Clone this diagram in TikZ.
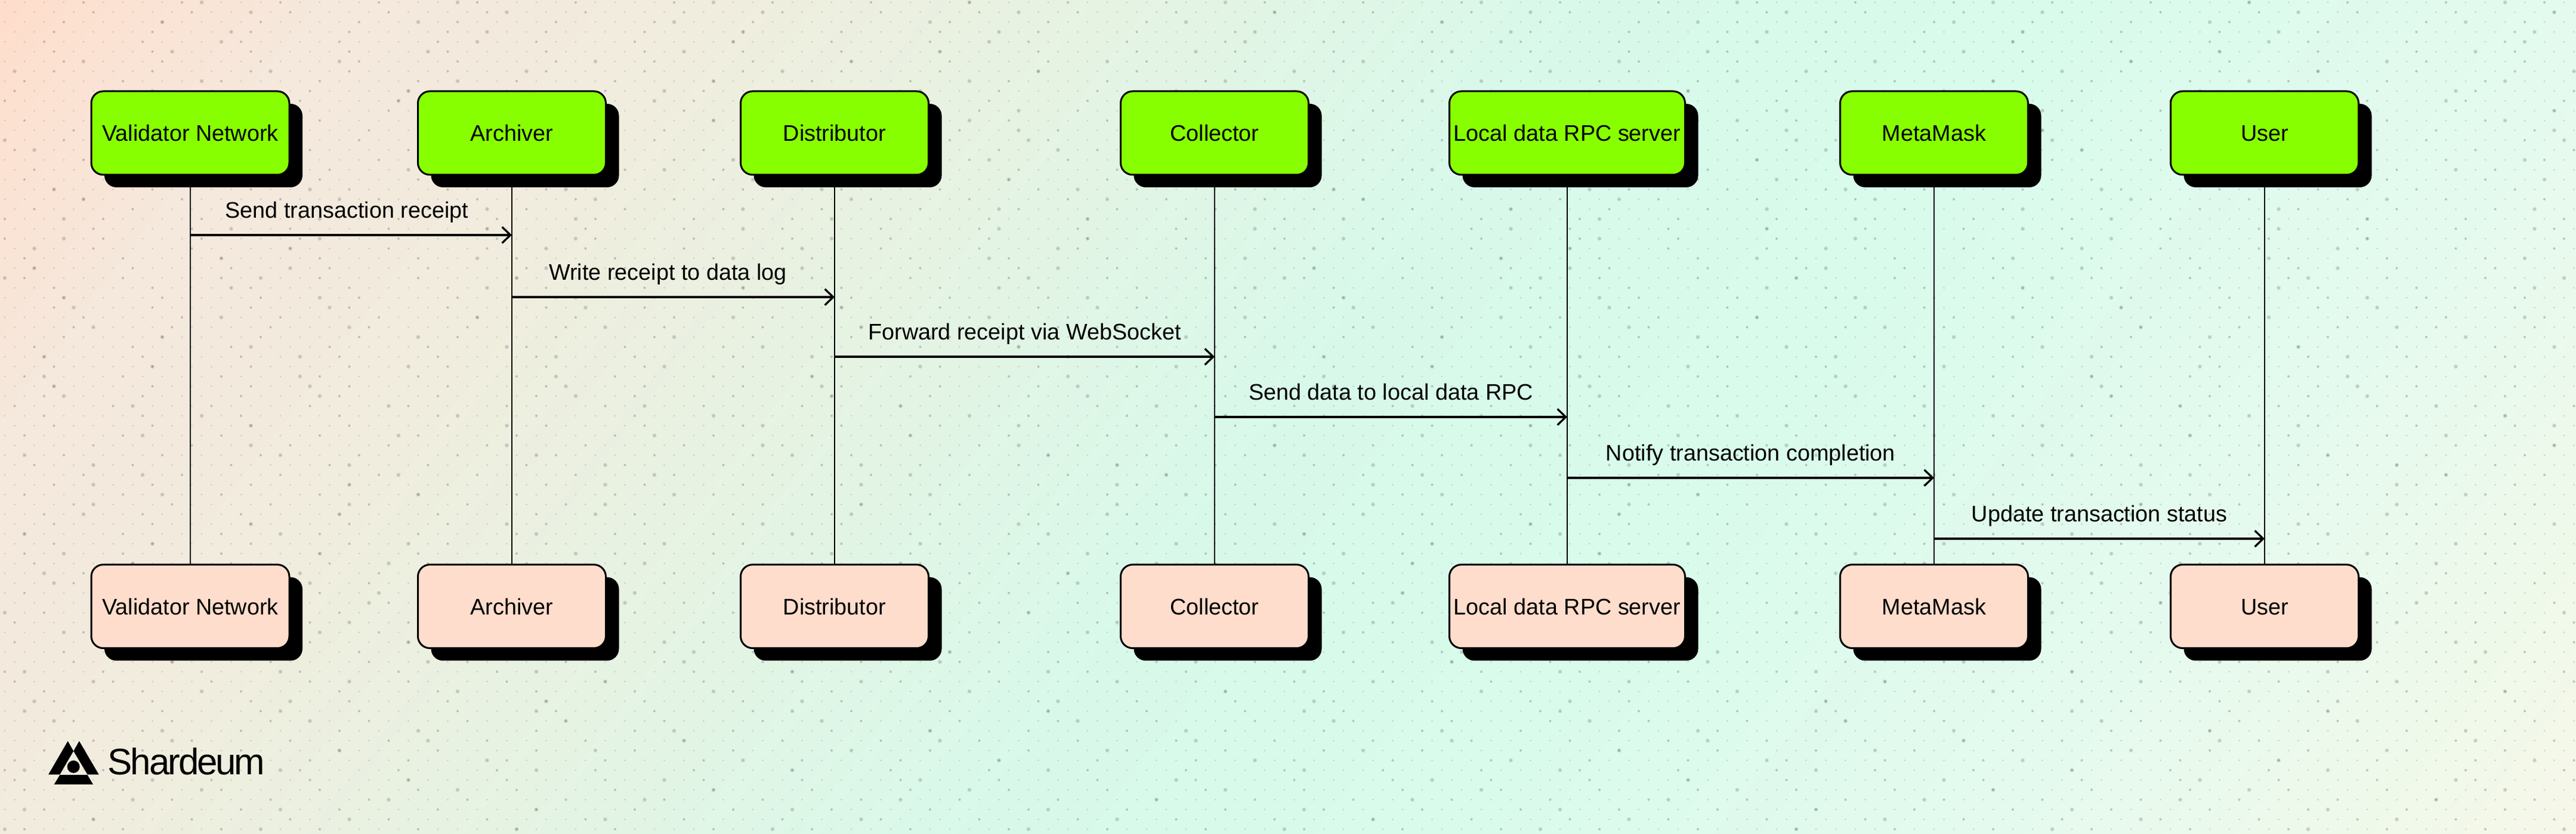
\documentclass[tikz,border=0pt]{standalone}
\usepackage{fontspec}
\setmainfont{Liberation Sans}
\usepackage{tikz}
\usetikzlibrary{shapes.geometric, arrows.meta, shadows}
\definecolor{bga}{HTML}{FFDCCB}
\definecolor{bgb}{HTML}{FBE2D2}
\definecolor{bgc}{HTML}{F5E8DC}
\definecolor{bgd}{HTML}{F0EDDE}
\definecolor{bge}{HTML}{E6F3E3}
\definecolor{bgf}{HTML}{D8F9EA}
\definecolor{bgg}{HTML}{D8FBEC}
\definecolor{bgh}{HTML}{E5FAEE}
\definecolor{bgi}{HTML}{F0F9EA}
\definecolor{bgj}{HTML}{F8F6E8}
\definecolor{actorgreen}{HTML}{88FF00}
\definecolor{actorpeach}{HTML}{FFDDCC}
\pgfdeclarehorizontalshading{bggrad}{100bp}{color(0bp)=(bga); color(25.1bp)=(bga); color(27bp)=(bgb); color(30.2bp)=(bgc); color(36.3bp)=(bgd); color(42.4bp)=(bge); color(50bp)=(bgf); color(57bp)=(bgg); color(66bp)=(bgh); color(72bp)=(bgi); color(75.5bp)=(bgj); color(100bp)=(bgj)}
\tikzstyle{actor} = [rectangle, rounded corners=0.2cm, minimum width=3.15cm, minimum height=1.4cm, inner xsep=1pt, text centered, text height=0.274cm, text depth=0pt, draw=black, line width=0.03cm, font=\fontsize{10.75}{13}\selectfont, drop shadow={shadow xshift=0.22cm, shadow yshift=-0.21cm, fill=black, opacity=1}]
\tikzstyle{top} = [actor, fill=actorgreen]
\tikzstyle{bottom} = [actor, fill=actorpeach]
\tikzstyle{lifeline} = [line width=0.025cm]
\tikzstyle{arrow} = [line width=0.033cm, -{Straight Barb[length=0.14cm, width=0.27cm]}]
\tikzstyle{msg} = [midway, anchor=base, yshift=0.28cm, inner sep=0pt, font=\fontsize{10.75}{13}\selectfont]
\tikzstyle{speck} = [line cap=round, draw opacity=0.12]
\begin{document}
\begin{tikzpicture}[node distance=5.4cm]
		\useasboundingbox (0,0) rectangle (43.18,13.98);
		% background
		\begin{scope}
			\clip (0,0) rectangle (43.18,13.98);
			\shade [shading=bggrad, shading angle=-37] (0,-14.6) rectangle (43.18,28.58);
			\pgfmathsetseed{11}
			\foreach \row in {0,...,84} {
				\pgfmathsetmacro{\rowy}{0.08+0.165*\row}
				\pgfmathsetmacro{\rowx}{0.08+0.165*mod(\row,2)}
				\pgfmathrandominteger{\phasea}{0}{4}
				\pgfmathrandominteger{\phaseb}{0}{12}
				\draw [speck, line width=0.034cm, dash pattern=on 0pt off 0.33cm] (\rowx,\rowy) -- (43.18,\rowy);
				\draw [speck, line width=0.046cm, dash pattern=on 0pt off 1.65cm] ({\rowx+0.33*\phasea},\rowy) -- (43.18,\rowy);
				\draw [speck, line width=0.07cm, dash pattern=on 0pt off 4.29cm] ({\rowx+0.33*\phaseb},\rowy) -- (43.18,\rowy);
			}
		\end{scope}

		\node (val) [top, minimum width=3.32cm] at (3.19,11.75) {Validator Network};
		\node (arc) [top, right of=val, xshift=-0.01cm] {Archiver};
		\node (dis) [top, right of=arc, xshift=0.01cm] {Distributor};
		\node (col) [top, right of=dis, xshift=0.97cm] {Collector};
		\node (rpc) [top, minimum width=3.95cm, right of=col, xshift=0.51cm] {Local data RPC server};
		\node (met) [top, right of=rpc, xshift=0.75cm] {MetaMask};
		\node (usr) [top, right of=met, xshift=0.14cm] {User};

		\node (valb) [bottom, minimum width=3.32cm, below of=val, yshift=-2.535cm] {Validator Network};
		\node (arcb) [bottom, below of=arc, yshift=-2.535cm] {Archiver};
		\node (disb) [bottom, below of=dis, yshift=-2.535cm] {Distributor};
		\node (colb) [bottom, below of=col, yshift=-2.535cm] {Collector};
		\node (rpcb) [bottom, minimum width=3.95cm, below of=rpc, yshift=-2.535cm] {Local data RPC server};
		\node (metb) [bottom, below of=met, yshift=-2.535cm] {MetaMask};
		\node (usrb) [bottom, below of=usr, yshift=-2.535cm] {User};

		\draw [lifeline] (val) -- (valb);
		\draw [lifeline] (arc) -- (arcb);
		\draw [lifeline] (dis) -- (disb);
		\draw [lifeline] (col) -- (colb);
		\draw [lifeline] (rpc) -- (rpcb);
		\draw [lifeline] (met) -- (metb);
		\draw [lifeline] (usr) -- (usrb);

		\coordinate (m1a) at (val |- 0,10.04);
		\coordinate (m1b) at (arc |- 0,10.04);
		\coordinate (m2a) at (arc |- 0,9.00);
		\coordinate (m2b) at (dis |- 0,9.00);
		\coordinate (m3a) at (dis |- 0,8.00);
		\coordinate (m3b) at (col |- 0,8.00);
		\coordinate (m4a) at (col |- 0,6.99);
		\coordinate (m4b) at (rpc |- 0,6.99);
		\coordinate (m5a) at (rpc |- 0,5.97);
		\coordinate (m5b) at (met |- 0,5.97);
		\coordinate (m6a) at (met |- 0,4.95);
		\coordinate (m6b) at (usr |- 0,4.95);

		\draw [arrow] (m1a) -- node (l1) [msg, xshift=-0.07cm] {Send transaction receipt} (m1b);
		\draw [arrow] (m2a) -- node (l2) [msg, xshift=-0.09cm] {Write receipt to data log} (m2b);
		\draw [arrow] (m3a) -- node (l3) [msg] {Forward receipt via WebSocket} (m3b);
		\draw [arrow] (m4a) -- node (l4) [msg] {Send data to local data RPC} (m4b);
		\draw [arrow] (m5a) -- node (l5) [msg] {Notify transaction completion} (m5b);
		\draw [arrow] (m6a) -- node (l6) [msg] {Update transaction status} (m6b);

		% logo
		\fill (1.137,1.557) -- (1.232,1.39) -- (1.003,0.997) -- (0.811,0.997) -- cycle;
		\fill (1.328,1.557) -- (1.657,0.997) -- (1.466,0.997) -- (1.232,1.39) -- cycle;
		\fill (1.003,0.99) -- (1.466,0.99) -- (1.561,0.83) -- (0.907,0.83) -- cycle;
		\fill (1.232,1.127) circle (0.105);
		\node (logo) [anchor=base west, inner sep=0pt, font=\fontsize{17.6}{20}\selectfont\addfontfeature{LetterSpace=-5}] at (1.80,0.997) {Shardeum};
\end{tikzpicture}
\end{document}
